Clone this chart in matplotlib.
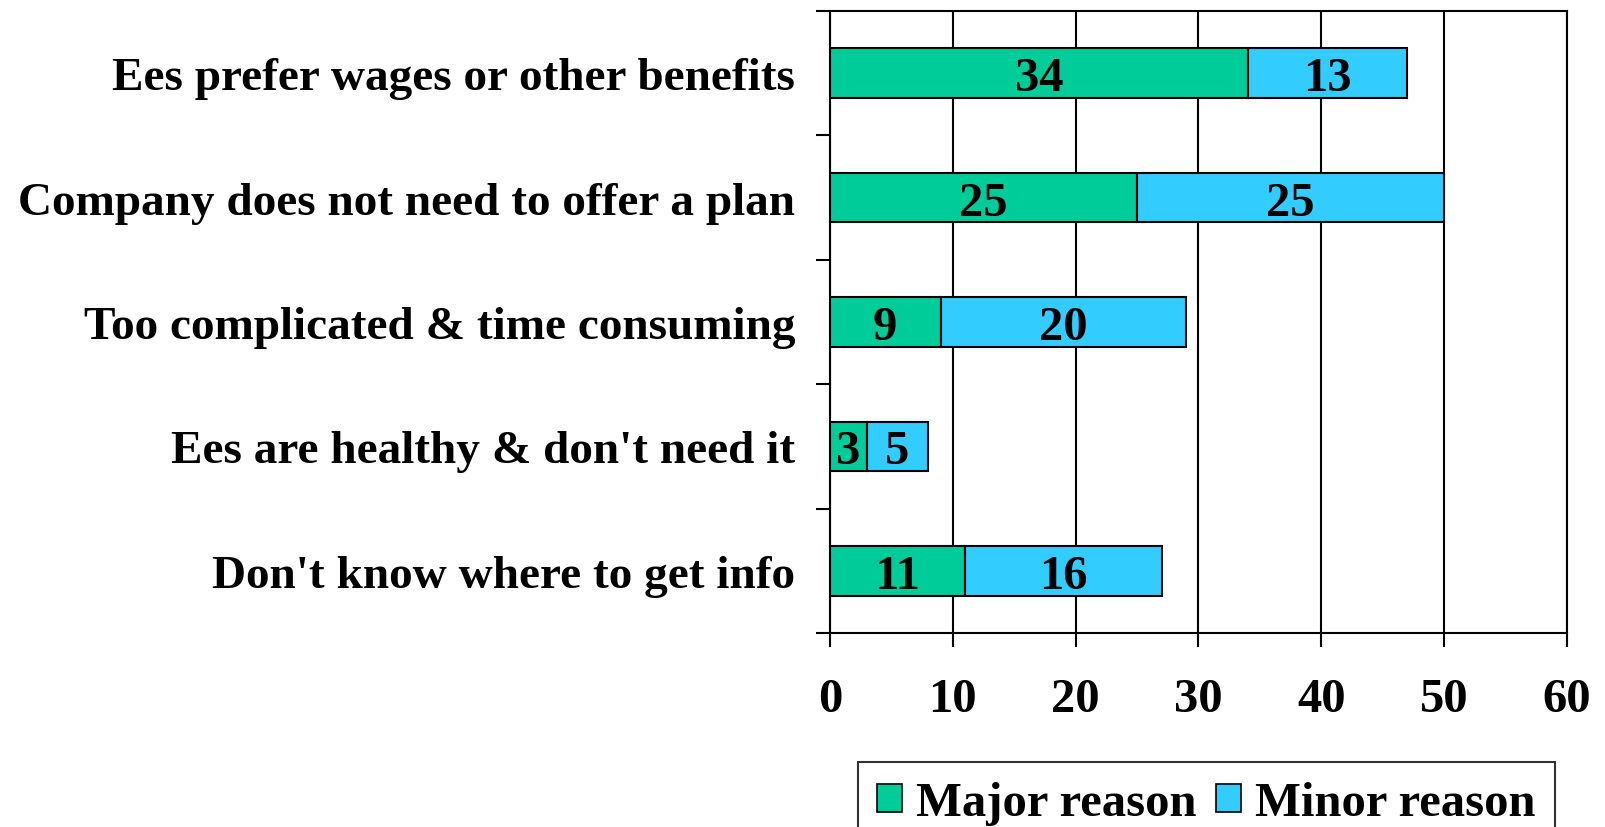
import numpy as np
import matplotlib.pyplot as plt
from matplotlib.patches import Patch

# Survey data: reasons for not offering a plan
categories = ["Ees prefer wages or other benefits",
              "Company does not need to offer a plan",
              "Too complicated & time consuming",
              "Ees are healthy & don't need it",
              "Don't know where to get info"]
major = [34, 25, 9, 3, 11]
minor = [13, 25, 20, 5, 16]
series_names = ["Major reason", "Minor reason"]
colors = ["#00CC99", "#33CCFF"]

plt.rcParams['font.family'] = ['Liberation Serif', 'DejaVu Serif']
plt.rcParams['font.weight'] = 'bold'

fig = plt.figure(figsize=(16.06, 8.28), dpi=100)
ax = fig.add_axes([830 / 1606, 1 - 634 / 828, (1567 - 830) / 1606, (634 - 12) / 828])

y = np.arange(len(categories))
h = 0.4
ax.barh(y, major, height=h, color=colors[0], edgecolor='black', linewidth=1.5, zorder=3)
ax.barh(y, minor, left=major, height=h, color=colors[1], edgecolor='black', linewidth=1.5, zorder=3)

fs = 35
for i in range(len(categories)):
    ax.text(major[i] / 2, y[i], str(major[i]), ha='center', va='center_baseline',
            fontsize=fs, fontweight='bold', zorder=4)
    ax.text(major[i] + minor[i] / 2, y[i], str(minor[i]), ha='center', va='center_baseline',
            fontsize=fs, fontweight='bold', zorder=4)

ax.set_xlim(0, 60)
ax.set_ylim(len(categories) - 0.5, -0.5)
ax.set_xticks(np.arange(0, 61, 10))
ax.set_xticklabels([str(v) for v in range(0, 61, 10)], fontsize=fs, fontweight='bold')
ax.tick_params(axis='x', length=10, width=1.5, pad=22, direction='out')

# boundary ticks on y, labels at category centers
ax.set_yticks(np.arange(-0.5, len(categories), 1.0))
ax.set_yticklabels([])
ax.tick_params(axis='y', which='major', length=10, width=1.5, direction='out')
ax.set_yticks(y, minor=True)
ax.set_yticklabels(categories, minor=True, fontsize=34, fontweight='bold')
ax.tick_params(axis='y', which='minor', length=0, pad=25)

ax.grid(axis='x', color='black', linewidth=1.5, zorder=0)
for s in ax.spines.values():
    s.set_linewidth(1.5)
    s.set_color('black')

handles = [Patch(facecolor=colors[0], edgecolor='black', linewidth=1.2),
           Patch(facecolor=colors[1], edgecolor='black', linewidth=1.2)]
leg = fig.legend(handles, series_names, loc='upper left',
                 bbox_to_anchor=(858 / 1606, 1 - 763 / 828), ncol=2,
                 fontsize=fs, frameon=True, fancybox=False, edgecolor='black',
                 handlelength=0.5, handleheight=0.5, handletextpad=0.3,
                 columnspacing=0.4, borderpad=0.4, borderaxespad=0)
leg.get_frame().set_linewidth(1.5)
for t in leg.get_texts():
    t.set_fontweight('bold')

fig.savefig('out.png', dpi=100)
